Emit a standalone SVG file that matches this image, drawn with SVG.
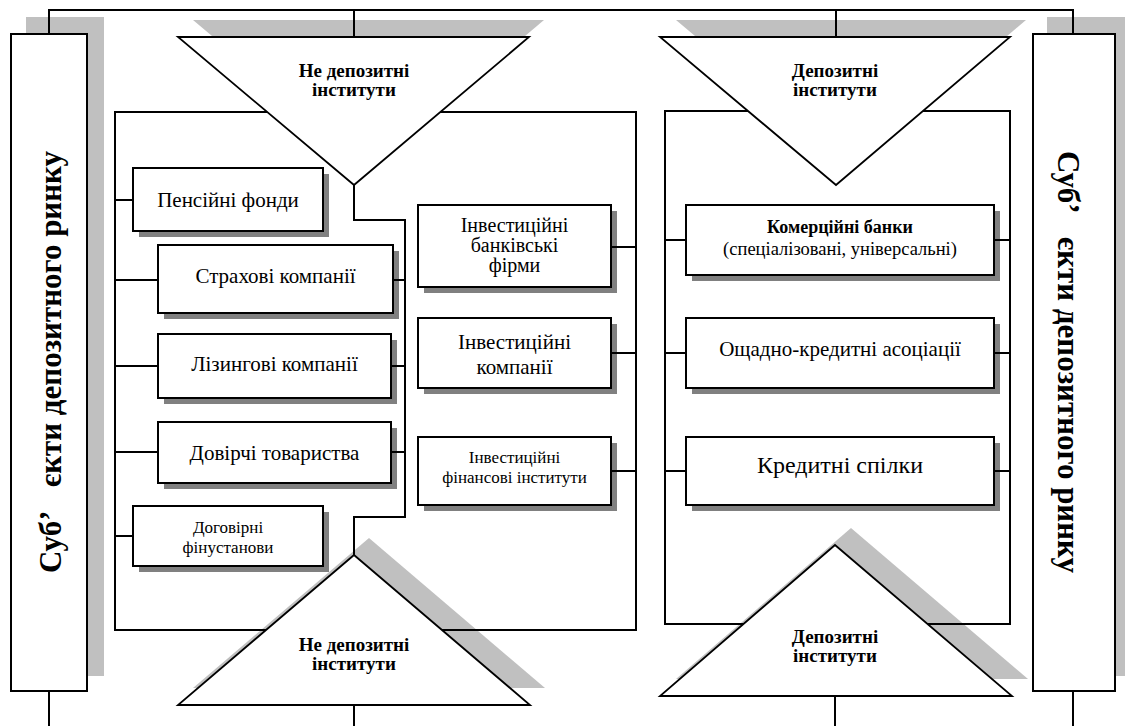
<svg xmlns="http://www.w3.org/2000/svg" width="1125" height="726" viewBox="0 0 1125 726">
<style>
.bx{fill:#fff;stroke:#000;stroke-width:2}
.sh{fill:#808080}
.lsh{fill:#c0c0c0}
.ln{fill:none;stroke:#000;stroke-width:2}
.tri{fill:#fff;stroke:#000;stroke-width:1.8}
.t{font-family:"Liberation Serif","Times New Roman",serif;font-size:21px;text-anchor:middle;fill:#000}
.b{font-weight:bold}
.s17{font-size:17px}
.s20{font-size:20px}
.tt{font-family:"Liberation Serif","Times New Roman",serif;font-size:19px;font-weight:bold;text-anchor:middle;fill:#000}
.side{font-family:"Liberation Serif","Times New Roman",serif;font-size:31px;font-weight:bold;text-anchor:middle;fill:#000}
</style>
<rect width="1125" height="726" fill="#fff"/>
<g id="shadows">
<rect class="lsh" x="26" y="17" width="78" height="659"/>
<rect class="lsh" x="1047" y="17" width="80" height="659"/>
<polygon class="lsh" points="193,20 544,20 369,168"/>
<polygon class="lsh" points="676,20 1026,20 852,168"/>
<polygon class="lsh" points="369,538 193,688 545,688"/>
<polygon class="lsh" points="851,528 676,679 1028,679"/>
<rect class="sh" x="139" y="174" width="190" height="63"/>
<rect class="sh" x="164" y="251" width="235" height="68"/>
<rect class="sh" x="164" y="340" width="233" height="64"/>
<rect class="sh" x="164" y="428" width="233" height="61"/>
<rect class="sh" x="139" y="512" width="190" height="60"/>
<rect class="sh" x="424" y="211" width="193" height="82"/>
<rect class="sh" x="424" y="324" width="193" height="70"/>
<rect class="sh" x="424" y="443" width="193" height="68"/>
<rect class="sh" x="692" y="211" width="308" height="70"/>
<rect class="sh" x="692" y="324" width="308" height="70"/>
<rect class="sh" x="692" y="443" width="308" height="68"/>
</g>
<g id="connectors" class="ln">
<path d="M49,34 V10 H1073 V34"/>
<path d="M354,10 V37 M836,10 V37"/>
<path d="M49,691 V726 M354,705 V726 M835,696 V726 M1073,691 V726"/>
<path d="M115,112 H636 V630 H115 Z"/>
<path d="M665,111 H1010 V624 H665 Z"/>
<path d="M354,185 V220 H405 V517 H354 V555"/>
<path d="M115,200 H133 M115,280 H158 M115,366 H158 M115,452 H158 M115,536 H133"/>
<path d="M393,280 H405 M391,366 H405 M391,452 H405"/>
<path d="M611,247 H636 M611,353 H636 M611,471 H636"/>
<path d="M665,240 H686 M994,240 H1010 M665,353 H686 M994,353 H1010 M665,471 H686 M994,471 H1010"/>
</g>
<g id="subjects-left">
<rect class="bx" x="11" y="34" width="76" height="657"/>
<text class="side" x="61" y="362" transform="rotate(-90 61 362)">Суб’&#160;&#160;&#160;єкти депозитного ринку</text>
</g>
<g id="subjects-right">
<rect class="bx" x="1033" y="34" width="82" height="657"/>
<text class="side" x="1058" y="362" transform="rotate(90 1058 362)">Суб’&#160;&#160;&#160;єкти депозитного ринку</text>
</g>
<g id="nondep-top">
<polygon class="tri" points="178,37 529,37 354,185"/>
<text class="tt" x="354" y="77">Не депозитні</text>
<text class="tt" x="354" y="96">інститути</text>
</g>
<g id="dep-top">
<polygon class="tri" points="660,37 1010,37 836,185"/>
<text class="tt" x="835" y="77">Депозитні</text>
<text class="tt" x="835" y="96">інститути</text>
</g>
<g id="nondep-bottom">
<polygon class="tri" points="354,555 178,705 530,705"/>
<text class="tt" x="354" y="651">Не депозитні</text>
<text class="tt" x="354" y="670">інститути</text>
</g>
<g id="dep-bottom">
<polygon class="tri" points="835,545 660,696 1012,696"/>
<text class="tt" x="835" y="643">Депозитні</text>
<text class="tt" x="835" y="662">інститути</text>
</g>
<g id="pension">
<rect class="bx" x="133" y="168" width="190" height="63"/>
<text class="t" x="228" y="207">Пенсійні фонди</text>
</g>
<g id="insurance">
<rect class="bx" x="158" y="245" width="235" height="68"/>
<text class="t" x="275.5" y="283">Страхові компанії</text>
</g>
<g id="leasing">
<rect class="bx" x="158" y="334" width="233" height="64"/>
<text class="t" x="274.5" y="371">Лізингові компанії</text>
</g>
<g id="trust">
<rect class="bx" x="158" y="422" width="233" height="61"/>
<text class="t" x="274.5" y="460">Довірчі товариства</text>
</g>
<g id="contract">
<rect class="bx" x="133" y="506" width="190" height="60"/>
<text class="t s17" x="228" y="533">Договірні</text>
<text class="t s17" x="228" y="553">фінустанови</text>
</g>
<g id="inv-bank">
<rect class="bx" x="418" y="205" width="193" height="82"/>
<text class="t s20" x="514.5" y="232">Інвестиційні</text>
<text class="t s20" x="514.5" y="252">банківські</text>
<text class="t s20" x="514.5" y="272">фірми</text>
</g>
<g id="inv-comp">
<rect class="bx" x="418" y="318" width="193" height="70"/>
<text class="t" x="514.5" y="349">Інвестиційні</text>
<text class="t" x="514.5" y="374">компанії</text>
</g>
<g id="inv-fin">
<rect class="bx" x="418" y="437" width="193" height="68"/>
<text class="t s17" x="514.5" y="463">Інвестиційні</text>
<text class="t s17" x="514.5" y="483">фінансові інститути</text>
</g>
<g id="comm-banks">
<rect class="bx" x="686" y="205" width="308" height="70"/>
<text class="t b" x="840" y="233" style="font-size:18px">Комерційні банки</text>
<text class="t" x="840" y="255" style="font-size:18.5px">(спеціалізовані, універсальні)</text>
</g>
<g id="savings">
<rect class="bx" x="686" y="318" width="308" height="70"/>
<text class="t" x="840" y="356">Ощадно-кредитні асоціації</text>
</g>
<g id="credit-unions">
<rect class="bx" x="686" y="437" width="308" height="68"/>
<text class="t" x="840" y="473" style="font-size:24px">Кредитні спілки</text>
</g>
</svg>
